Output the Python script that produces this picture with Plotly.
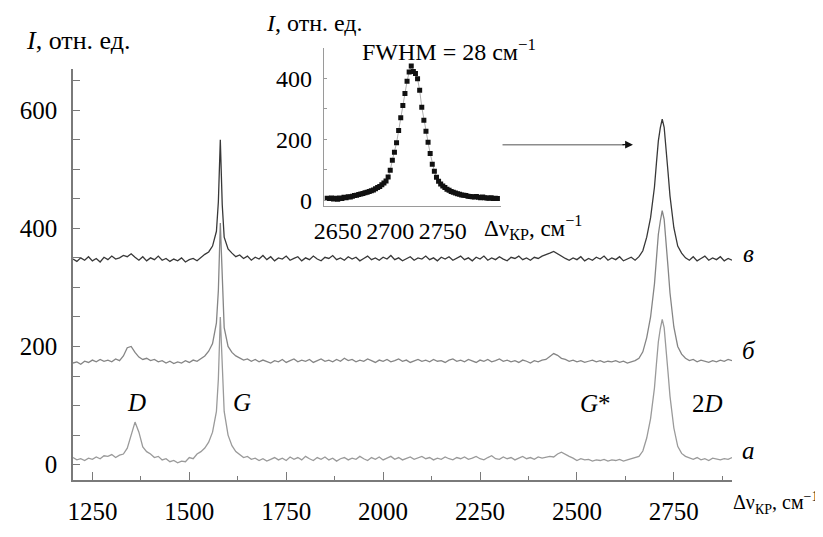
import plotly.graph_objects as go

# ---------------- data ----------------
x_main = [*range(1200, 1570, 10), *range(1570, 1595, 5), *range(1600, 2700, 10),
          *range(2700, 2745, 5), *range(2750, 2901, 10)]

a_seg1 = [12, 8, 10, 7, 11, 9, 13, 10, 15, 14, 17, 12, 16, 18, 28, 50, 72, 55, 30, 22,
          18, 12, 14, 8, 10, 5, 7, 3, 6, 5, 12, 10, 18, 22, 28, 38, 55]
a_G = [90, 145, 250, 155, 90]
a_seg2 = [50, 32, 22, 17, 12, 14, 9, 11, 7, 10,
          6, 9, 12, 8, 11, 7, 13, 9, 12, 8,
          14, 10, 7, 12, 9, 13, 8, 11, 6, 10,
          12, 8, 11, 9, 14, 10, 7, 12, 9, 13,
          8, 11, 14, 9, 12, 8, 10, 13, 9, 11,
          14, 10, 12, 8, 11, 9, 13, 10, 8, 12,
          10, 13, 9, 11, 14, 10, 8, 12, 15, 10,
          9, 13, 10, 12, 8, 11, 14, 10, 12, 9,
          13, 11, 12, 14, 13, 18, 21, 17, 14, 11,
          7, 10, 8, 9, 6, 8, 7, 9, 6, 8,
          7, 9, 6, 8, 10, 11, 14, 23, 45, 78]
a_2D = [130, 170, 208, 230, 246, 232, 199, 156, 116]
a_tail = [62, 31, 19, 14, 11, 9, 12, 8, 10, 7, 11, 9, 8, 10, 9, 12]

b_seg1 = [172, 174, 170, 175, 173, 177, 174, 178, 175, 177, 174, 179, 176, 184, 198, 200, 190, 182, 178, 180,
          176, 178, 174, 176, 172, 175, 171, 174, 172, 176, 173, 177, 175, 180, 184, 192, 205]
b_G = [240, 295, 409, 300, 232]
b_seg2 = [200, 190, 184, 180, 177, 179, 175, 178, 174, 177,
          175, 172, 176, 174, 178, 173, 176, 179, 174, 177,
          175, 178, 173, 176, 179, 175, 177, 174, 178, 175,
          180, 176, 178, 174, 177, 175, 179, 176, 173, 177,
          175, 178, 174, 176, 179, 175, 177, 173, 176, 178,
          175, 177, 174, 178, 175, 176, 173, 177, 179, 175,
          177, 174, 178, 176, 173, 177, 175, 178, 174, 176,
          179, 175, 177, 174, 176, 173, 177, 175, 172, 176,
          174, 177, 178, 183, 188, 185, 180, 178, 175, 177,
          174, 176, 173, 175, 177, 174, 176, 173, 175, 174,
          176, 173, 175, 172, 174, 176, 180, 191, 215, 250]
b_2D = [306, 349, 390, 412, 430, 415, 379, 334, 291]
b_tail = [233, 200, 187, 180, 176, 178, 174, 177, 175, 173, 176, 174, 177, 175, 178, 176]

v_seg1 = [348, 344, 350, 346, 352, 345, 349, 343, 351, 347, 353, 348, 350, 354, 352, 357, 351, 346, 352, 345,
          350, 347, 353, 346, 349, 344, 348, 345, 350, 343, 347, 349, 345, 351, 356, 360, 370]
v_G = [395, 445, 550, 440, 385]
v_seg2 = [365, 358, 352, 355, 349, 353, 346, 351, 348, 354,
          347, 352, 345, 350, 348, 353, 346, 349, 352, 345,
          350, 347, 353, 348, 345, 351, 349, 354, 347, 350,
          346, 352, 348, 351, 345, 349, 353, 347, 350, 346,
          351, 348, 354, 347, 350, 345, 349, 352, 346, 350,
          348, 353, 347, 350, 345, 351, 348, 352, 346, 349,
          353, 347, 350, 345, 351, 348, 353, 346, 350, 347,
          352, 348, 345, 351, 349, 353, 347, 350, 346, 351,
          349, 353, 355, 358, 361, 357, 352, 349, 346, 350,
          347, 352, 345, 349, 346, 351, 348, 353, 346, 350,
          347, 352, 345, 348, 351, 346, 352, 362, 385, 418]
v_2D = [470, 510, 548, 570, 585, 571, 538, 495, 455]
v_tail = [401, 370, 358, 350, 346, 352, 345, 349, 353, 346, 350, 347, 352, 345, 349, 346]

curve_a = a_seg1 + a_G + a_seg2 + a_2D + a_tail
curve_b = b_seg1 + b_G + b_seg2 + b_2D + b_tail
curve_v = v_seg1 + v_G + v_seg2 + v_2D + v_tail
assert len(curve_a) == len(x_main) == len(curve_b) == len(curve_v)

x_inset = list(range(2640, 2803, 2))
y_inset = [6, 5, 7, 4, 6, 3, 7, 5, 9, 8,
           11, 10, 13, 15, 16, 18, 20, 22, 24, 26,
           28, 31, 33, 37, 41, 45, 50, 56, 63, 76,
           98, 131, 157, 188, 228, 270, 310, 350, 390, 420,
           440, 422, 415, 398, 360, 305, 262, 226, 190, 153,
           118, 95, 75, 62, 53, 46, 41, 36, 32, 28,
           26, 23, 21, 19, 17, 16, 15, 13, 12, 11,
           10, 12, 9, 8, 10, 8, 7, 6, 8, 5,
           6, 5]
assert len(x_inset) == len(y_inset)

main_xticks = [1250, 1500, 1750, 2000, 2250, 2500, 2750]
main_yticks = [0, 200, 400, 600]
inset_xticks = [2650, 2700, 2750]
inset_yticks = [0, 200, 400]

# ---------------- figure ----------------
# the page body keeps its default 8px margin, so the figure is sized to fill the
# rest of the 823x537 window exactly
OFF = 8
W, H = 823 - OFF, 537 - OFF
PLOT_L, PLOT_R, PLOT_T, PLOT_B = 60, 732, 40, 498   # plot area in window pixels
ML, MT = PLOT_L - OFF, PLOT_T - OFF
PW, PH = PLOT_R - PLOT_L, PLOT_B - PLOT_T
MR, MB = W - ML - PW, H - MT - PH


def px(xp):
    return (xp - PLOT_L) / PW


def py(yp):
    return (PLOT_B - yp) / PH


FONT = "Liberation Serif"
AX = "#7a7a7a"
FS = 25

fig = go.Figure()
fig.add_trace(go.Scatter(x=x_main, y=curve_a, mode="lines", line=dict(color="#9a9a9a", width=1.3),
                         hoverinfo="skip", showlegend=False))
fig.add_trace(go.Scatter(x=x_main, y=curve_b, mode="lines", line=dict(color="#858585", width=1.3),
                         hoverinfo="skip", showlegend=False))
fig.add_trace(go.Scatter(x=x_main, y=curve_v, mode="lines", line=dict(color="#383838", width=1.3),
                         hoverinfo="skip", showlegend=False))
fig.add_trace(go.Scatter(x=x_inset, y=y_inset, mode="lines+markers", xaxis="x2", yaxis="y2",
                         line=dict(color="#b0b0b0", width=1),
                         marker=dict(symbol="square", size=5, color="#111111"),
                         hoverinfo="skip", showlegend=False))

main_top = py(70)
fig.update_layout(
    width=W, height=H,
    margin=dict(l=ML, r=MR, t=MT, b=MB, pad=0),
    paper_bgcolor="white", plot_bgcolor="rgba(0,0,0,0)",
    font=dict(family=FONT, size=FS, color="black"),
    xaxis=dict(range=[1200, 2900], domain=[0, 1], tickvals=main_xticks, ticks="inside", ticklen=8,
               tickwidth=1.3, tickcolor=AX, showline=True, linecolor=AX, linewidth=1.6,
               showgrid=False, zeroline=False, anchor="y",
               minor=dict(tickvals=[1375, 1625, 1875, 2125, 2375, 2625, 2875], ticks="inside",
                          ticklen=4, tickcolor=AX, tickwidth=1.3),
               tickfont=dict(family=FONT, size=FS), ticklabelstandoff=8),
    yaxis=dict(range=[-26, 670], domain=[0, main_top], tickvals=main_yticks, ticks="inside", ticklen=7,
               tickwidth=1.3, tickcolor=AX, showline=True, linecolor=AX, linewidth=1.6,
               showgrid=False, zeroline=False, anchor="x",
               minor=dict(dtick=50, tick0=0, ticks="inside", ticklen=7, tickcolor=AX, tickwidth=1.3),
               tickfont=dict(family=FONT, size=FS), ticklabelstandoff=9),
    xaxis2=dict(range=[2637, 2805], domain=[px(316), px(496)], tickvals=inset_xticks, ticks="",
                showline=True, linecolor="#9a9a9a", linewidth=1.3, showgrid=False, zeroline=False,
                anchor="y2", tickfont=dict(family=FONT, size=FS - 1), ticklabelstandoff=3),
    yaxis2=dict(range=[-20, 500], domain=[py(213), py(48)], tickvals=inset_yticks, ticks="inside",
                ticklen=3, tickcolor="#9a9a9a", showline=True, linecolor="#9a9a9a", linewidth=1.3,
                minor=dict(dtick=100, tick0=0, ticks="inside", ticklen=3, tickcolor="#9a9a9a"),
                showgrid=False, zeroline=False, anchor="x2",
                tickfont=dict(family=FONT, size=FS - 1), ticklabelstandoff=6),
)


def label(text, xp, yp, size=FS, anchor="left"):
    fig.add_annotation(text=text, x=px(xp), y=py(yp), xref="paper", yref="paper",
                       xanchor=anchor, yanchor="middle", showarrow=False,
                       font=dict(family=FONT, size=size, color="black"))


label("<i>I</i>, отн. ед.", 10, 40, 26)
label("<i>I</i>, отн. ед.", 255, 22, 24)
label("FWHM = 28 см<sup>−1</sup>", 353, 50, 24)
label("Δν<sub>КР</sub>, см<sup>−1</sup>", 731, 522, 20)
label("Δν<sub>КР</sub>, см<sup>−1</sup>", 477, 235, 23)
label("<i>в</i>", 749, 262, FS, "center")
label("<i>б</i>", 749, 363, FS, "center")
label("<i>а</i>", 749, 467, FS, "center")
label("<i>D</i>", 125, 417, FS, "center")
label("<i>G</i>", 232, 417, FS, "center")
label("<i>G</i>*", 593, 418, FS, "center")
label("2<i>D</i>", 707, 418, FS, "center")

# arrow from inset to 2D peak
fig.add_shape(type="line", xref="paper", yref="paper", x0=px(498), x1=px(622), y0=py(149), y1=py(149),
              line=dict(color="#8c8c8c", width=1.5))
fig.add_annotation(x=px(631), y=py(149), xref="paper", yref="paper", ax=-12, ay=0,
                   text="", showarrow=True, arrowhead=2, arrowsize=1.2, arrowwidth=1.3,
                   arrowcolor="#111111", standoff=0)

fig.write_html("out.html")
